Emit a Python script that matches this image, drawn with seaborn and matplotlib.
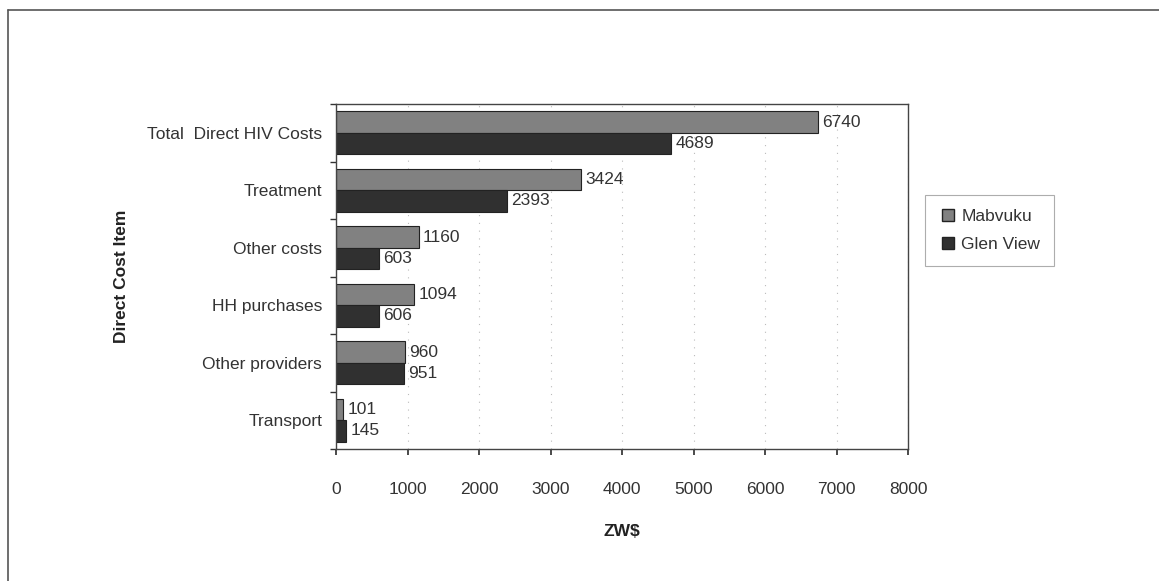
import matplotlib
matplotlib.use("Agg")
import matplotlib.pyplot as plt
import seaborn as sns
import pandas as pd
import numpy as np
from matplotlib.lines import Line2D

categories = ["Total  Direct HIV Costs", "Treatment", "Other costs",
              "HH purchases", "Other providers", "Transport"]
mabvuku = [6740, 3424, 1160, 1094, 960, 101]
glen_view = [4689, 2393, 603, 606, 951, 145]
series_names = ["Mabvuku", "Glen View"]
x_ticks = [0, 1000, 2000, 3000, 4000, 5000, 6000, 7000, 8000]

df = pd.DataFrame({
    "item": categories * 2,
    "value": mabvuku + glen_view,
    "site": [series_names[0]] * len(categories) + [series_names[1]] * len(categories),
})

sns.set_theme(style="white")
plt.rcParams["font.family"] = ["Liberation Sans", "DejaVu Sans"]

fig = plt.figure(figsize=(11.59, 5.81), dpi=100)
ax = fig.add_axes([336 / 1159, 1 - 449 / 581, 572 / 1159, 345 / 581])

palette = {"Mabvuku": "#818181", "Glen View": "#303030"}
sns.barplot(data=df, y="item", x="value", hue="site", order=categories,
            hue_order=series_names, palette=palette, orient="h",
            width=0.74, edgecolor="#222222", linewidth=0.8,
            saturation=1, ax=ax, legend=False)

for cont in ax.containers:
    ax.bar_label(cont, labels=[f"{int(v)}" for v in cont.datavalues],
                 padding=3, fontsize=12.5, color="#333333")

ax.set_xlim(0, 8000)
ax.set_xticks(x_ticks)
ax.set_xticklabels([str(t) for t in x_ticks], fontsize=12.5, color="#333333")
ax.set_yticks(range(len(categories)))
ax.set_yticklabels(categories, fontsize=12.5, color="#333333")
# category ticks sit on the boundaries between groups
ax.set_yticks(np.arange(-0.5, len(categories), 1.0), minor=True)
ax.tick_params(axis="y", which="major", length=0, pad=10)
ax.tick_params(axis="y", which="minor", length=4, left=True, color="#333333")
ax.tick_params(axis="x", length=4, bottom=True, color="#333333", pad=20)
ax.xaxis.grid(True, linestyle=(0, (1, 6)), color="#bbbbbb", linewidth=0.8)
ax.set_axisbelow(True)
for s in ax.spines.values():
    s.set_color("#444444")
    s.set_linewidth(1.0)

ax.set_xlabel("ZW$", fontsize=12.5, fontweight="bold", labelpad=19, color="#222222")
ax.set_ylabel("Direct Cost Item", fontsize=12.5, fontweight="bold", color="#222222")
ax.yaxis.set_label_coords(-0.362, 0.5)

handles = [Line2D([], [], marker="s", linestyle="none", markersize=8,
                  markerfacecolor=palette[n], markeredgecolor="#222222")
           for n in series_names]
leg = fig.legend(handles, series_names, loc="upper left",
                 bbox_to_anchor=(925 / 1159, 1 - 195 / 581), fontsize=12.5,
                 frameon=True, fancybox=False, handletextpad=0.3,
                 borderpad=0.8, labelspacing=0.75, handlelength=1.0,
                 borderaxespad=0)
leg.get_frame().set_edgecolor("#999999")
leg.get_frame().set_linewidth(0.8)
for t in leg.get_texts():
    t.set_color("#333333")

# outer frame around the chart
fig.add_artist(Line2D([8 / 1159, 1.0], [1 - 10 / 581, 1 - 10 / 581],
                      color="#555555", linewidth=1.2, transform=fig.transFigure))
fig.add_artist(Line2D([8 / 1159, 8 / 1159], [0.0, 1 - 10 / 581],
                      color="#555555", linewidth=1.2, transform=fig.transFigure))

fig.savefig("out.png", dpi=100, facecolor="white")
